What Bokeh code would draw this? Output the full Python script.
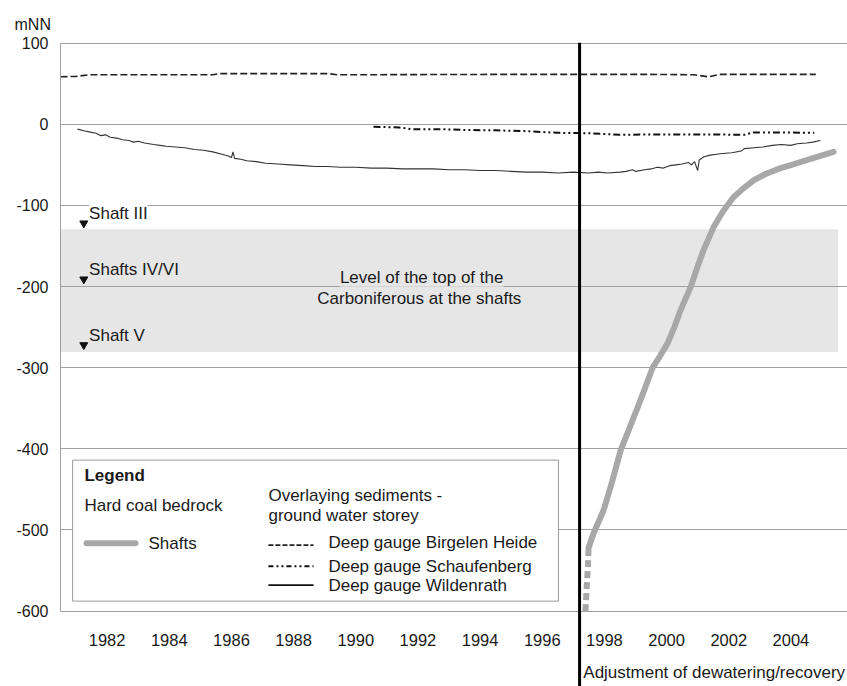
from bokeh.plotting import figure
from bokeh.models import Range1d, FixedTicker, Span, Label, BoxAnnotation
from bokeh.core.properties import value
from bokeh.embed import file_html
from bokeh.resources import INLINE

# ---------------- data ----------------
birgelen_year = [1981.0, 1981.5, 1981.9, 1984.0, 1985.9, 1986.1, 1989.6, 1989.9, 1995.0,
                 2000.0, 2001.4, 2001.85, 2002.2, 2005.3]
birgelen_level = [58.5, 59, 61, 61, 61, 62.5, 62.5, 61, 61.5, 61.5, 61, 58.5, 61.5, 61.5]

schaufenberg_year = [1991.07, 1991.9, 1992.3, 1993.2, 1994.0, 1995.0, 1996.0, 1997.0, 1998.0,
                     1999.0, 2000.0, 2001.0, 2002.0, 2003.0, 2003.3, 2004.0, 2005.25]
schaufenberg_level = [-3, -4, -6, -6, -7, -7.5, -8.5, -10.5, -11, -13, -12.5, -12.5, -12.5,
                      -13, -10, -10, -10.5]

wildenrath_year = [1981.55, 1981.75, 1982.0, 1982.15, 1982.3, 1982.45, 1982.6, 1982.8, 1983.0,
                   1983.2, 1983.35, 1983.5, 1983.7, 1984.0, 1984.2, 1984.4, 1984.7, 1985.0,
                   1985.3, 1985.6, 1985.9, 1986.2, 1986.4, 1986.5, 1986.55, 1986.6, 1986.8,
                   1987.0, 1987.3, 1987.6, 1988.0, 1988.4, 1988.8, 1989.2, 1989.6, 1990.0,
                   1990.5, 1991.0, 1991.5, 1992.0, 1992.5, 1993.0, 1993.5, 1994.0, 1994.5,
                   1995.0, 1995.5, 1996.0, 1996.5, 1997.0, 1997.5, 1998.0, 1998.3, 1998.6,
                   1999.0, 1999.2, 1999.4, 1999.5, 1999.8, 2000.0, 2000.2, 2000.4, 2000.6,
                   2000.8, 2001.0, 2001.2, 2001.3, 2001.4, 2001.5, 2001.55, 2001.7, 2001.9,
                   2002.1, 2002.3, 2002.6, 2002.9, 2003.0, 2003.3, 2003.6, 2003.9, 2004.2,
                   2004.5, 2004.7, 2005.0, 2005.2, 2005.45]
wildenrath_level = [-6, -8, -10, -11, -14, -13, -16, -17, -19,
                    -20, -22, -21, -23, -25, -26, -27, -28, -29,
                    -31, -32, -34, -37, -39, -41, -34, -42, -43,
                    -45, -46, -48, -49, -50, -51, -52, -52, -53,
                    -53, -54, -54, -55, -55, -55, -56, -56, -57,
                    -57, -58, -59, -59, -60, -59, -60, -59, -60,
                    -59, -58, -56, -58, -56, -55, -53, -54, -51,
                    -50, -49, -47, -50, -46, -57, -44, -40, -38,
                    -37, -36, -35, -33, -30, -29, -28, -26, -25,
                    -26, -24, -23, -22, -20]

shafts_start_year = [1997.89, 1997.93, 1997.97, 1997.99]
shafts_start_level = [-600, -570, -545, -522]
shafts_year = [1997.99, 1998.15, 1998.47, 1998.75, 1999.02, 1999.28, 1999.66, 2000.05, 2000.3,
               2000.53, 2000.75, 2000.95, 2001.27, 2001.5, 2001.69, 2002.01, 2002.3, 2002.65,
               2003.0, 2003.3, 2003.7, 2004.17, 2004.6, 2005.03, 2005.45, 2005.87]
shafts_level = [-522, -504, -476, -440, -402, -377, -340, -300, -285,
                -270, -250, -229, -201, -175, -155, -127, -108, -90,
                -78, -69, -61, -54, -49, -44, -39, -34]

shaft_names = ["Shaft III", "Shafts IV/VI", "Shaft V"]
shaft_top_level = [-122, -191, -272]
shaft_marker_year = [1981.75, 1981.75, 1981.75]

carboniferous_top = -130
carboniferous_bottom = -280
adjustment_year = 1997.70

y_ticks = [-600, -500, -400, -300, -200, -100, 0, 100]
y_tick_labels = ["-600", "-500", "-400", "-300", "-200", "-100", "0", "100"]
x_tick_years = [1982, 1984, 1986, 1988, 1990, 1992, 1994, 1996, 1998, 2000, 2002, 2004]
x_tick_labels = ["1982", "1984", "1986", "1988", "1990", "1992", "1994", "1996",
                 "1998", "2000", "2002", "2004"]
grid_years = list(range(1981, 2007))

# ---------------- styling ----------------
FONT = "Liberation Sans"
FS = "17px"
TXT = "#1a1a1a"
GRID = "#a0a0a0"
BAND = "#e6e6e6"
SHAFT_GRAY = "#a8a8a8"
Y_MIN, Y_MAX = -600, 100
X_MIN, X_MAX = 1981, 2006

p = figure(width=847, height=686, output_backend="svg", toolbar_location=None,
           x_axis_type=None,
           x_range=Range1d(1981, 2006.32), y_range=Range1d(-692.9, 100.8),
           min_border_left=60, min_border_right=0, min_border_top=42, min_border_bottom=0)
p.outline_line_color = None
p.background_fill_color = "white"

# unit label as title
p.title.text = "mNN"
p.title.align = "left"
p.title.offset = -46
p.title.standoff = 20
p.title.text_font = FONT
p.title.text_font_size = "16px"
p.title.text_font_style = "normal"
p.title.text_color = TXT

# grid (bounded to the chart area)
p.xgrid.ticker = FixedTicker(ticks=grid_years)
p.xgrid.bounds = (Y_MIN, Y_MAX)
p.ygrid.ticker = FixedTicker(ticks=y_ticks)
p.ygrid.bounds = (X_MIN, X_MAX)
for g in (p.xgrid, p.ygrid):
    g.grid_line_color = GRID
    g.grid_line_width = 1

# y axis
p.yaxis.ticker = FixedTicker(ticks=y_ticks)
p.yaxis.bounds = (Y_MIN, Y_MAX)
p.yaxis.major_label_overrides = {t: lab for t, lab in zip(y_ticks, y_tick_labels)}
p.yaxis.axis_line_color = GRID
p.yaxis.major_tick_line_color = None
p.yaxis.minor_tick_line_color = None
p.yaxis.major_label_standoff = 6
p.yaxis.major_label_text_font = FONT
p.yaxis.major_label_text_font_size = "16px"
p.yaxis.major_label_text_color = TXT

# x tick labels (centred in each labelled year)
p.text(x=[y + 0.5 for y in x_tick_years], y=[-636.2] * len(x_tick_years), text=x_tick_labels,
       text_font=value(FONT), text_font_size=value("16.5px"), text_color=TXT,
       text_align="center", text_baseline="middle")

# Carboniferous band (below grid)
band = BoxAnnotation(bottom=carboniferous_bottom, top=carboniferous_top, left=X_MIN, right=X_MAX,
                     fill_color=BAND, fill_alpha=1.0, line_color="#c4c4c4", line_width=1,
                     level="image")
p.add_layout(band)

# series
p.line(birgelen_year, birgelen_level, line_color="#222222", line_width=1.6, line_dash="7 3")
p.line(schaufenberg_year, schaufenberg_level, line_color="#111111", line_width=2,
       line_dash="7 3 2 3 2 3")
p.line(wildenrath_year, wildenrath_level, line_color="#333333", line_width=1.1)
p.line(shafts_start_year, shafts_start_level, line_color=SHAFT_GRAY, line_width=6,
       line_dash="7 4")
p.line(shafts_year, shafts_level, line_color=SHAFT_GRAY, line_width=6, line_cap="round",
       line_join="round")

# shaft markers
p.scatter(shaft_marker_year, shaft_top_level, marker="inverted_triangle", size=8,
          fill_color="#111111", line_color="#111111")
for name, lvl, bg in zip(shaft_names, shaft_top_level, ["white", BAND, BAND]):
    p.add_layout(Label(x=1981.92, y=lvl + 11.5, text=name, text_font=FONT, text_font_size=FS,
                       text_color=TXT, text_baseline="middle", text_align="left",
                       background_fill_color=bg))

# band text
for txt, yy in [("Level of the top of the", -188.4), ("Carboniferous  at the shafts", -214.3)]:
    p.add_layout(Label(x=1992.62, y=yy, text=txt, text_font=FONT, text_font_size=FS,
                       text_color=TXT, text_baseline="middle", text_align="center",
                       background_fill_color=BAND))

# adjustment line
p.add_layout(Span(location=adjustment_year, dimension="height", line_color="black",
                  line_width=3))
p.add_layout(Label(x=1997.82, y=-675.5, text="Adjustment of dewatering/recovery",
                   text_font=FONT, text_font_size="17px", text_color=TXT,
                   text_baseline="middle", text_align="left"))

# legend box
p.quad(left=[1981.39], right=[1997.02], top=[-413.9], bottom=[-587.7], fill_color="white",
       line_color="#9a9a9a", line_width=1)
p.line([1981.84, 1983.41], [-516.2, -516.2], line_color=SHAFT_GRAY, line_width=6,
       line_cap="round")
p.line([1987.69, 1989.14], [-518.7, -518.7], line_color="#222222", line_width=1.6,
       line_dash="5 2")
p.line([1987.69, 1989.14], [-544.6, -544.6], line_color="#111111", line_width=2,
       line_dash="5 3 2 3 2 3")
p.line([1987.69, 1989.14], [-568.0, -568.0], line_color="#111111", line_width=1.6)

legend_texts = [
    ("Legend", 1981.77, -432.4, "bold"),
    ("Hard coal bedrock", 1981.77, -469.4, "normal"),
    ("Shafts", 1983.83, -516.2, "normal"),
    ("Overlaying sediments -", 1987.69, -457.1, "normal"),
    ("ground water storey", 1987.69, -481.7, "normal"),
    ("Deep gauge Birgelen Heide", 1989.62, -515.0, "normal"),
    ("Deep gauge Schaufenberg", 1989.62, -544.6, "normal"),
    ("Deep gauge Wildenrath", 1989.62, -568.0, "normal"),
]
for txt, xx, yy, st in legend_texts:
    p.add_layout(Label(x=xx, y=yy, text=txt, text_font=FONT, text_font_size=FS,
                       text_color=TXT, text_baseline="middle", text_align="left",
                       text_font_style=st))

open("out.html", "w").write(file_html(p, INLINE))
